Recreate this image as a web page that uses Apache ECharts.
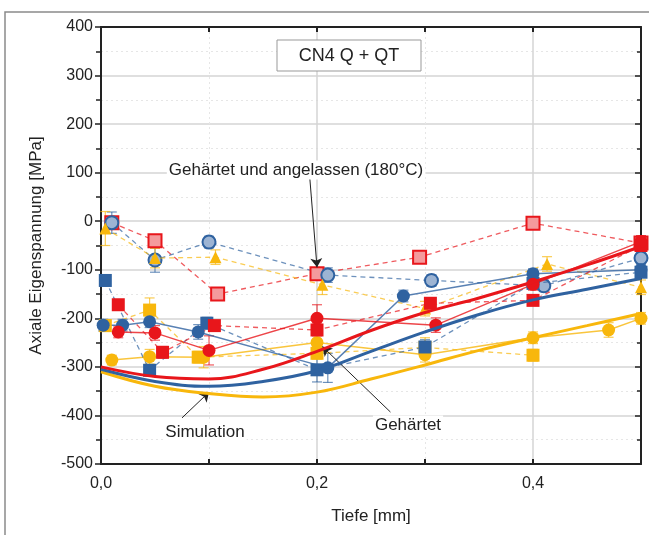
<!DOCTYPE html>
<html>
<head>
<meta charset="utf-8">
<script src="https://cdn.jsdelivr.net/npm/echarts@6/dist/echarts.min.js"></script>
<style>
html, body { margin: 0; background: #fff; }
#root { width: 649px; height: 535px; }
</style>
</head>
<body>
<div id="root"></div>
<script>
// colours
const BLUE = '#2f62a0';
const RED = '#e8161b';
const YEL = '#f8b70c';
const BLUE_L = '#9db4d3';
const RED_L = '#f49a9c';

// simulation curves
const simX = [0, 0.05, 0.1, 0.15, 0.2, 0.25, 0.3, 0.35, 0.4, 0.45, 0.5];
const simRed = [-300, -320, -325, -305, -268, -225, -188, -158, -125, -90, -52];
const simBlue = [-305, -330, -340, -330, -308, -268, -228, -192, -162, -140, -118];
const simYel = [-310, -340, -355, -362, -352, -325, -296, -266, -240, -215, -190];

// hardened + tempered (dashed, open markers)
const qtRedX = [0.01, 0.05, 0.108, 0.2, 0.295, 0.4, 0.5];
const qtRedY = [-3, -40, -150, -108, -74, -4, -45];
const qtRedE = [12, 12, 12, 12, 10, 10, 15];
const qtBlueX = [0.01, 0.05, 0.1, 0.21, 0.306, 0.41, 0.5];
const qtBlueY = [-3, -80, -43, -111, -122, -133, -76];
const qtBlueE = [22, 25, 12, 15, 12, 12, 12];
const qtYelX = [0.004, 0.05, 0.106, 0.205, 0.3, 0.413, 0.5];
const qtYelY = [-15, -76, -74, -131, -180, -88, -136];
const qtYelE = [35, 20, 15, 20, 15, 15, 15];

// hardened (solid, filled markers)
const qRedCX = [0.016, 0.05, 0.1, 0.2, 0.31, 0.4, 0.5];
const qRedCY = [-228, -230, -266, -200, -214, -130, -42];
const qRedCE = [12, 15, 30, 28, 15, 12, 12];
const qRedSX = [0.016, 0.057, 0.105, 0.2, 0.305, 0.4, 0.5];
const qRedSY = [-172, -270, -215, -224, -169, -163, -50];
const qRedSE = [10, 12, 10, 12, 10, 10, 10];
const qBlueCX = [0.002, 0.02, 0.045, 0.09, 0.21, 0.28, 0.4, 0.5];
const qBlueCY = [-214, -214, -207, -228, -302, -154, -108, -100];
const qBlueCE = [12, 12, 12, 15, 30, 12, 10, 10];
const qBlueSX = [0.004, 0.045, 0.098, 0.2, 0.3, 0.4, 0.5];
const qBlueSY = [-122, -307, -210, -306, -259, -128, -105];
const qBlueSE = [12, 10, 12, 25, 15, 10, 10];
const qYelCX = [0.01, 0.045, 0.095, 0.2, 0.3, 0.4, 0.47, 0.5];
const qYelCY = [-286, -279, -280, -250, -275, -240, -224, -200];
const qYelCE = [10, 15, 22, 18, 15, 12, 15, 12];
const qYelSX = [0.004, 0.045, 0.09, 0.2, 0.3, 0.4];
const qYelSY = [-215, -183, -280, -272, -260, -276];
const qYelSE = [12, 25, 12, 12, 20, 12];

// axis ticks
const yTicks = [400, 300, 200, 100, 0, -100, -200, -300, -400, -500];
const xTickLabels = {'0': '0,0', '0.2': '0,2', '0.4': '0,4'};

const pts = (xs, ys) => xs.map((x, i) => [x, ys[i]]);
const errData = (xs, ys, es) => xs.map((x, i) => [x, ys[i], es[i]]);

function lineSeries(xs, ys, color, symbol, dashed, openFill) {
  return {
    type: 'line', data: pts(xs, ys), z: openFill ? 3 : 4,
    symbol: symbol, symbolSize: symbol === 'triangle' ? 12 : 13,
    lineStyle: { color: color, width: dashed ? 1.3 : 1.5, type: dashed ? [5, 4] : 'solid', opacity: dashed ? 0.7 : 0.8 },
    itemStyle: openFill
      ? { color: openFill, borderColor: color, borderWidth: 2 }
      : { color: color, borderWidth: 0 }
  };
}

function errSeries(xs, ys, es, color) {
  return {
    type: 'custom', z: 2, silent: true,
    data: errData(xs, ys, es),
    renderItem: function (params, api) {
      const x = api.value(0), y = api.value(1), e = api.value(2);
      const a = api.coord([x, y + e]), b = api.coord([x, y - e]);
      const st = { stroke: color, lineWidth: 1.2, opacity: 0.7 };
      return { type: 'group', children: [
        { type: 'line', shape: { x1: a[0], y1: a[1], x2: b[0], y2: b[1] }, style: st },
        { type: 'line', shape: { x1: a[0] - 5, y1: a[1], x2: a[0] + 5, y2: a[1] }, style: st },
        { type: 'line', shape: { x1: b[0] - 5, y1: b[1], x2: b[0] + 5, y2: b[1] }, style: st }
      ]};
    }
  };
}

function simSeries(ys, color) {
  return {
    type: 'line', data: pts(simX, ys), smooth: 0.4, symbol: 'none', z: 5,
    lineStyle: { color: color, width: 3 }
  };
}

const arrowLine = {
  type: 'line', data: [], z: 10,
  markLine: {
    silent: true, symbol: ['none', 'arrow'], symbolSize: 9,
    label: { show: false },
    lineStyle: { color: '#222', width: 1, type: 'solid' },
    data: [
      [{ coord: [0.193, 98] }, { coord: [0.2, -95] }],
      [{ coord: [0.268, -393] }, { coord: [0.205, -258] }],
      [{ coord: [0.075, -405] }, { coord: [0.1, -352] }]
    ]
  }
};

const axisFont = { fontFamily: 'Liberation Sans', fontSize: 16, color: '#222' };

const chart = echarts.init(document.getElementById('root'));
chart.setOption({
  animation: false,
  backgroundColor: '#fff',
  grid: { left: 101, right: 8, top: 27, bottom: 71 },
  xAxis: [{
    type: 'value', min: 0, max: 0.5, interval: 0.2, position: 'bottom',
    axisLine: { onZero: false, lineStyle: { color: '#222', width: 2 } },
    axisTick: { inside: true, length: 5, lineStyle: { color: '#222', width: 2 } },
    minorTick: { show: true, splitNumber: 2, length: 5, lineStyle: { color: '#222', width: 2 } },
    axisLabel: Object.assign({ margin: 12, formatter: v => xTickLabels[String(+v.toFixed(1))] || '' }, axisFont),
    splitLine: { show: true, lineStyle: { color: '#d4d4d4', width: 1.5, type: 'solid' } },
    minorSplitLine: { show: true, lineStyle: { color: '#e6e6e6', width: 1, type: [2, 3] } },
    name: 'Tiefe [mm]', nameLocation: 'middle', nameGap: 44,
    nameTextStyle: { fontFamily: 'Liberation Sans', fontSize: 17, color: '#222' }
  }, {
    type: 'value', min: 0, max: 0.5, interval: 0.2, position: 'top',
    axisLine: { show: true, onZero: false, lineStyle: { color: '#222', width: 2 } },
    axisTick: { show: true, inside: true, length: 5, lineStyle: { color: '#222', width: 2 } },
    minorTick: { show: true, splitNumber: 2, length: 5, lineStyle: { color: '#222', width: 2 } },
    axisLabel: { show: false }, splitLine: { show: false }
  }],
  yAxis: [{
    type: 'value', min: -500, max: 400, interval: 100,
    axisLine: { show: true, onZero: false, lineStyle: { color: '#222', width: 2 } },
    axisTick: { show: true, length: 6, lineStyle: { color: '#222', width: 1.5 } },
    minorTick: { show: true, splitNumber: 2, length: 5, lineStyle: { color: '#222', width: 1.5 } },
    axisLabel: Object.assign({ margin: 8, formatter: v => yTicks.includes(v) ? String(v) : '' }, axisFont),
    splitLine: { show: true, lineStyle: { color: '#d4d4d4', width: 1.5 } },
    minorSplitLine: { show: true, lineStyle: { color: '#e6e6e6', width: 1, type: [2, 3] } },
    name: 'Axiale Eigenspannung [MPa]', nameLocation: 'middle', nameGap: 56,
    nameTextStyle: { fontFamily: 'Liberation Sans', fontSize: 17, color: '#222' }
  }, {
    type: 'value', min: -500, max: 400, interval: 100, position: 'right',
    axisLine: { show: true, onZero: false, lineStyle: { color: '#222', width: 2 } },
    axisTick: { show: true, inside: true, length: 6, lineStyle: { color: '#222', width: 1.5 } },
    minorTick: { show: true, splitNumber: 2, length: 4, lineStyle: { color: '#222', width: 1.5 } },
    axisLabel: { show: false }, splitLine: { show: false }
  }],
  graphic: [
    { type: 'rect', shape: { x: 5, y: 12, width: 700, height: 600 }, style: { fill: 'none', stroke: '#8a8a8a', lineWidth: 1.5 }, z: -1 },
    { type: 'rect', shape: { x: 277, y: 40, width: 144, height: 31 }, style: { fill: '#fff', stroke: '#999', lineWidth: 1 }, z: 20 },
    { type: 'text', x: 349, y: 56, style: { text: 'CN4 Q + QT', fontFamily: 'Liberation Sans', fontSize: 18, fill: '#222', align: 'center', verticalAlign: 'middle' }, z: 21 },
    { type: 'text', x: 296, y: 170, style: { text: 'Gehärtet und angelassen (180°C)', fontFamily: 'Liberation Sans', fontSize: 17, fill: '#222', align: 'center', verticalAlign: 'middle', backgroundColor: '#fff', padding: [1, 2] }, z: 21 },
    { type: 'text', x: 408, y: 425, style: { text: 'Gehärtet', fontFamily: 'Liberation Sans', fontSize: 17, fill: '#222', align: 'center', verticalAlign: 'middle', backgroundColor: '#fff', padding: [1, 2] }, z: 21 },
    { type: 'text', x: 205, y: 432, style: { text: 'Simulation', fontFamily: 'Liberation Sans', fontSize: 17, fill: '#222', align: 'center', verticalAlign: 'middle', backgroundColor: '#fff', padding: [1, 2] }, z: 21 }
  ],
  series: [
    errSeries(qtRedX, qtRedY, qtRedE, RED),
    errSeries(qtBlueX, qtBlueY, qtBlueE, BLUE),
    errSeries(qtYelX, qtYelY, qtYelE, YEL),
    errSeries(qRedCX, qRedCY, qRedCE, RED),
    errSeries(qRedSX, qRedSY, qRedSE, RED),
    errSeries(qBlueCX, qBlueCY, qBlueCE, BLUE),
    errSeries(qBlueSX, qBlueSY, qBlueSE, BLUE),
    errSeries(qYelCX, qYelCY, qYelCE, YEL),
    errSeries(qYelSX, qYelSY, qYelSE, YEL),
    lineSeries(qtRedX, qtRedY, RED, 'rect', true, RED_L),
    lineSeries(qtBlueX, qtBlueY, BLUE, 'circle', true, BLUE_L),
    lineSeries(qtYelX, qtYelY, YEL, 'triangle', true, null),
    lineSeries(qYelSX, qYelSY, YEL, 'rect', true, null),
    lineSeries(qYelCX, qYelCY, YEL, 'circle', false, null),
    lineSeries(qBlueSX, qBlueSY, BLUE, 'rect', true, null),
    lineSeries(qBlueCX, qBlueCY, BLUE, 'circle', false, null),
    lineSeries(qRedSX, qRedSY, RED, 'rect', true, null),
    lineSeries(qRedCX, qRedCY, RED, 'circle', false, null),
    simSeries(simYel, YEL),
    simSeries(simBlue, BLUE),
    simSeries(simRed, RED),
    arrowLine
  ]
});
</script>
</body>
</html>
